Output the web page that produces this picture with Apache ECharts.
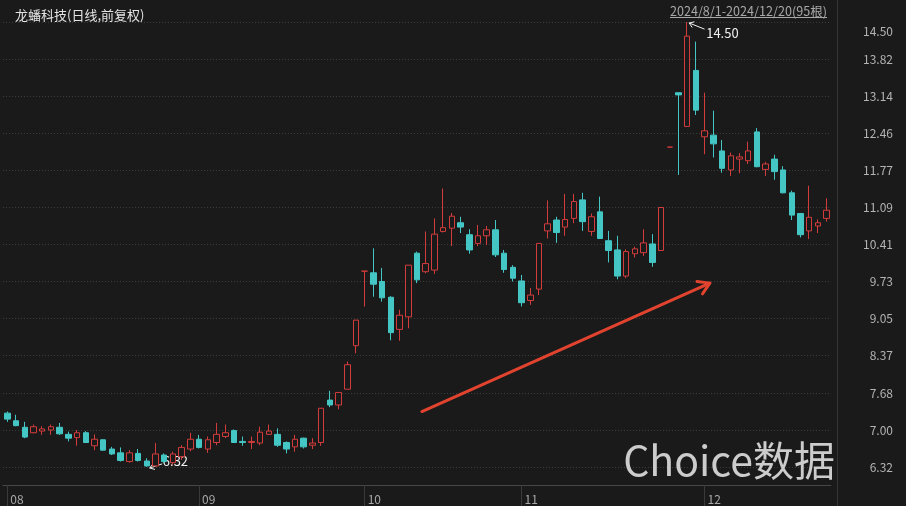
<!DOCTYPE html>
<html><head><meta charset="utf-8">
<script src="https://cdn.jsdelivr.net/npm/echarts@6/dist/echarts.min.js"></script>
<style>html,body{margin:0;padding:0;background:#1a1a1a}#c{width:906px;height:506px}</style>
</head><body><div id="c"></div>
<script>
const dates = [
 '08-01','08-02','08-05','08-06','08-07','08-08','08-09','08-12','08-13','08-14','08-15','08-16','08-19','08-20','08-21','08-22','08-23','08-26','08-27','08-28','08-29','08-30',
 '09-02','09-03','09-04','09-05','09-06','09-09','09-10','09-11','09-12','09-13','09-18','09-19','09-20','09-23','09-24','09-25','09-26','09-27','09-30',
 '10-08','10-09','10-10','10-11','10-14','10-15','10-16','10-17','10-18','10-21','10-22','10-23','10-24','10-25','10-28','10-29','10-30','10-31',
 '11-01','11-04','11-05','11-06','11-07','11-08','11-11','11-12','11-13','11-14','11-15','11-18','11-19','11-20','11-21','11-22','11-25','11-26','11-27','11-28','11-29',
 '12-02','12-03','12-04','12-05','12-06','12-09','12-10','12-11','12-12','12-13','12-16','12-17','12-18','12-19','12-20'];
const opens = [7.31,7.17,7.05,6.95,6.98,7.00,7.05,6.92,6.86,6.95,6.71,6.82,6.65,6.58,6.42,6.57,6.43,6.34,6.54,6.40,6.51,6.65,
 6.83,6.65,6.77,6.88,6.99,6.79,6.77,6.76,6.92,6.92,6.77,6.69,6.85,6.72,6.77,7.55,7.46,7.75,8.55,
 9.92,9.89,9.73,9.44,8.85,9.08,10.25,9.91,9.94,10.65,10.71,10.81,10.59,10.43,10.57,10.68,10.25,9.99,
 9.74,9.38,9.59,10.66,10.86,10.73,10.89,11.23,10.65,11.01,10.48,10.31,9.83,10.24,10.26,10.42,10.30,12.20,13.20,12.58,13.61,
 12.39,12.42,12.13,11.78,11.98,11.95,12.48,11.79,11.98,11.78,11.36,10.98,10.66,10.75,10.89];
const closes = [7.20,7.08,6.87,7.06,7.02,7.06,6.93,6.85,6.95,6.77,6.83,6.63,6.56,6.44,6.58,6.44,6.34,6.56,6.42,6.56,6.68,6.83,
 6.68,6.82,6.92,6.95,6.77,6.77,6.79,6.96,6.98,6.72,6.65,6.83,6.69,6.76,7.40,7.46,7.69,8.20,9.02,
 9.92,9.68,9.43,8.79,9.11,10.03,9.76,10.06,10.60,10.72,10.93,10.73,10.31,10.57,10.68,10.22,9.95,9.79,
 9.34,9.48,10.43,10.79,10.63,10.87,11.20,10.83,10.92,10.52,10.30,9.83,10.28,10.33,10.44,10.08,11.09,12.20,13.16,14.24,12.88,
 12.50,12.26,11.81,12.04,12.02,12.13,11.84,11.89,11.75,11.36,10.95,10.59,10.91,10.81,11.04];
const lows = [7.15,7.07,6.85,6.94,6.91,6.91,6.91,6.79,6.71,6.76,6.63,6.62,6.54,6.42,6.40,6.42,6.32,6.33,6.39,6.36,6.45,6.61,
 6.66,6.58,6.72,6.85,6.76,6.71,6.65,6.72,6.91,6.69,6.57,6.60,6.66,6.65,6.71,7.42,7.38,7.75,8.41,
 9.27,9.45,9.36,8.65,8.64,8.87,9.70,9.88,9.87,10.63,10.38,10.62,10.24,10.38,10.40,10.18,9.89,9.73,
 9.27,9.30,9.48,10.52,10.44,10.57,10.80,10.66,10.57,10.51,10.08,9.77,9.79,10.17,10.20,10.00,10.29,12.20,11.69,12.58,12.79,
 12.07,12.01,11.73,11.67,11.72,11.89,11.83,11.67,11.60,11.35,10.86,10.54,10.51,10.62,10.83];
const highs = [7.34,7.28,7.15,7.10,7.07,7.10,7.13,6.97,7.00,6.98,6.92,6.83,6.69,6.68,6.63,6.65,6.48,6.76,6.57,6.60,6.72,6.95,
 6.91,6.88,7.13,7.10,7.01,6.88,6.88,7.06,7.10,7.03,6.79,6.91,6.86,6.85,7.40,7.72,7.70,8.26,9.02,
 9.92,10.34,9.98,9.46,9.21,10.03,10.28,10.65,10.89,11.44,10.99,10.92,10.69,10.77,10.75,10.86,10.31,10.03,
 9.85,9.61,10.43,11.22,10.92,11.34,11.34,11.36,10.98,11.29,10.66,10.57,10.32,10.37,10.69,10.60,11.10,12.20,13.20,14.50,14.14,
 13.20,12.87,12.33,12.10,12.09,12.30,12.55,11.93,12.06,11.85,11.40,10.99,11.49,10.87,11.26];
const yTicks = [6.32,7.00,7.68,8.37,9.05,9.73,10.41,11.09,11.77,12.46,13.14,13.82,14.50];
const titleText = '龙蟠科技(日线,前复权)';
const rangeText = '2024/8/1-2024/12/20(95根)';
const watermarkText = 'Choice数据';
const trendArrow = {from: [47.56, 7.34], to: [80.6, 9.70]};

const BG = '#1a1a1a', RED = '#d23c3c', CYAN = '#44c6c4', FONT = '"Noto Sans CJK SC", sans-serif';
const kData = dates.map((d, i) => [opens[i], closes[i], lows[i], highs[i]]);
const isMonthStart = (i) => i === 0 || dates[i].slice(0, 2) !== dates[i - 1].slice(0, 2);

const chart = echarts.init(document.getElementById('c'), null, {renderer: 'canvas'});
chart.setOption({
  animation: false,
  backgroundColor: BG,
  title: {text: titleText, left: 10, top: 4,
    textStyle: {color: '#e4e4e4', fontSize: 13, fontWeight: 'normal', fontFamily: FONT}},
  grid: {left: 3, right: 75, top: 22, bottom: 21},
  xAxis: {
    type: 'category', data: dates, boundaryGap: true,
    axisLine: {show: true, lineStyle: {color: '#474747'}},
    axisTick: {show: true, alignWithLabel: true, length: 21, interval: (i) => isMonthStart(i),
      lineStyle: {color: '#3a3a3a'}},
    axisLabel: {interval: (i) => isMonthStart(i), formatter: (v) => v.slice(0, 2), align: 'left',
      padding: [0, 0, 0, 3], margin: 8, color: '#a8a8a8', fontSize: 12, fontFamily: FONT},
    splitLine: {show: false}
  },
  yAxis: {
    type: 'value', position: 'right', min: 5.989, max: 14.50, scale: true,
    axisLine: {show: false},
    axisTick: {show: false, customValues: yTicks},
    axisLabel: {customValues: yTicks, align: 'right', margin: 62, color: '#b4b4b4', fontSize: 12, fontFamily: FONT,
      formatter: (v) => v >= 14.49 ? '{t|' + v.toFixed(2) + '}' : v.toFixed(2),
      rich: {t: {padding: [18, 0, 0, 0], color: '#b4b4b4', fontSize: 12, fontFamily: FONT}}},
    splitLine: {show: true, lineStyle: {color: '#3c3c3c', type: [1, 2], width: 1}}
  },
  series: [{
    type: 'candlestick', data: kData, barWidth: 6,
    itemStyle: {color: BG, color0: CYAN, borderColor: RED, borderColor0: CYAN, borderWidth: 1}
  }]
});

function arrowEls(x1, y1, x2, y2, head, color, w, ang) {
  const a = Math.atan2(y2 - y1, x2 - x1);
  const p1 = [x2 - head * Math.cos(a - ang), y2 - head * Math.sin(a - ang)];
  const p2 = [x2 - head * Math.cos(a + ang), y2 - head * Math.sin(a + ang)];
  return [
    {type: 'line', silent: true, shape: {x1, y1, x2, y2}, style: {stroke: color, lineWidth: w, lineCap: 'round'}},
    {type: 'polyline', silent: true, shape: {points: [p1, [x2, y2], p2]}, style: {stroke: color, lineWidth: w, fill: null, lineCap: 'round', lineJoin: 'round'}}
  ];
}
const px = (i, v) => chart.convertToPixel({gridIndex: 0}, [i, v]);
const fx = (f, v) => { const a = px(0, v), b = px(dates.length - 1, v); return [a[0] + (b[0] - a[0]) * f / (dates.length - 1), a[1]]; };

let iMax = 0, iMin = 0;
highs.forEach((h, i) => { if (h > highs[iMax]) iMax = i; });
lows.forEach((l, i) => { if (l < lows[iMin]) iMin = i; });
const pMax = px(iMax, highs[iMax]), pMin = px(iMin, lows[iMin]);
const tA = fx(trendArrow.from[0], trendArrow.from[1]), tB = fx(trendArrow.to[0], trendArrow.to[1]);

const g = [];
g.push(...arrowEls(pMax[0] + 17, pMax[1] + 7, pMax[0] + 2, pMax[1] + 1, 5, '#f0f0f0', 1, 0.6));
g.push({type: 'text', silent: true, x: pMax[0] + 19, y: pMax[1] + 11,
  style: {text: highs[iMax].toFixed(2), fill: '#f0f0f0', font: '13px ' + FONT, textVerticalAlign: 'middle'}});
g.push(...arrowEls(pMin[0] + 15, pMin[1] - 3, pMin[0] + 3, pMin[1] + 1, 5, '#f0f0f0', 1, 0.6));
g.push({type: 'text', silent: true, x: pMin[0] + 16, y: pMin[1] - 6,
  style: {text: lows[iMin].toFixed(2), fill: '#f0f0f0', font: '13px ' + FONT, textVerticalAlign: 'middle'}});
g.push(...arrowEls(tA[0], tA[1], tB[0], tB[1], 13, '#e2432f', 3, 0.55));
g.push({type: 'line', silent: true, shape: {x1: 837.5, y1: 0, x2: 837.5, y2: 506}, style: {stroke: '#333333', lineWidth: 1}});
g.push({type: 'text', silent: true, x: 827, y: 11,
  style: {text: rangeText, fill: '#a8a8a8', font: '12.6px ' + FONT, textAlign: 'right', textVerticalAlign: 'middle'}});
g.push({type: 'line', silent: true, shape: {x1: 670, y1: 17.5, x2: 827, y2: 17.5}, style: {stroke: '#a8a8a8', lineWidth: 1}});
g.push({type: 'text', silent: true, x: 835, y: 460,
  style: {text: watermarkText, fill: '#cccccc', font: '41px ' + FONT, textAlign: 'right', textVerticalAlign: 'middle'}});
chart.setOption({graphic: g});
</script>
</body></html>
